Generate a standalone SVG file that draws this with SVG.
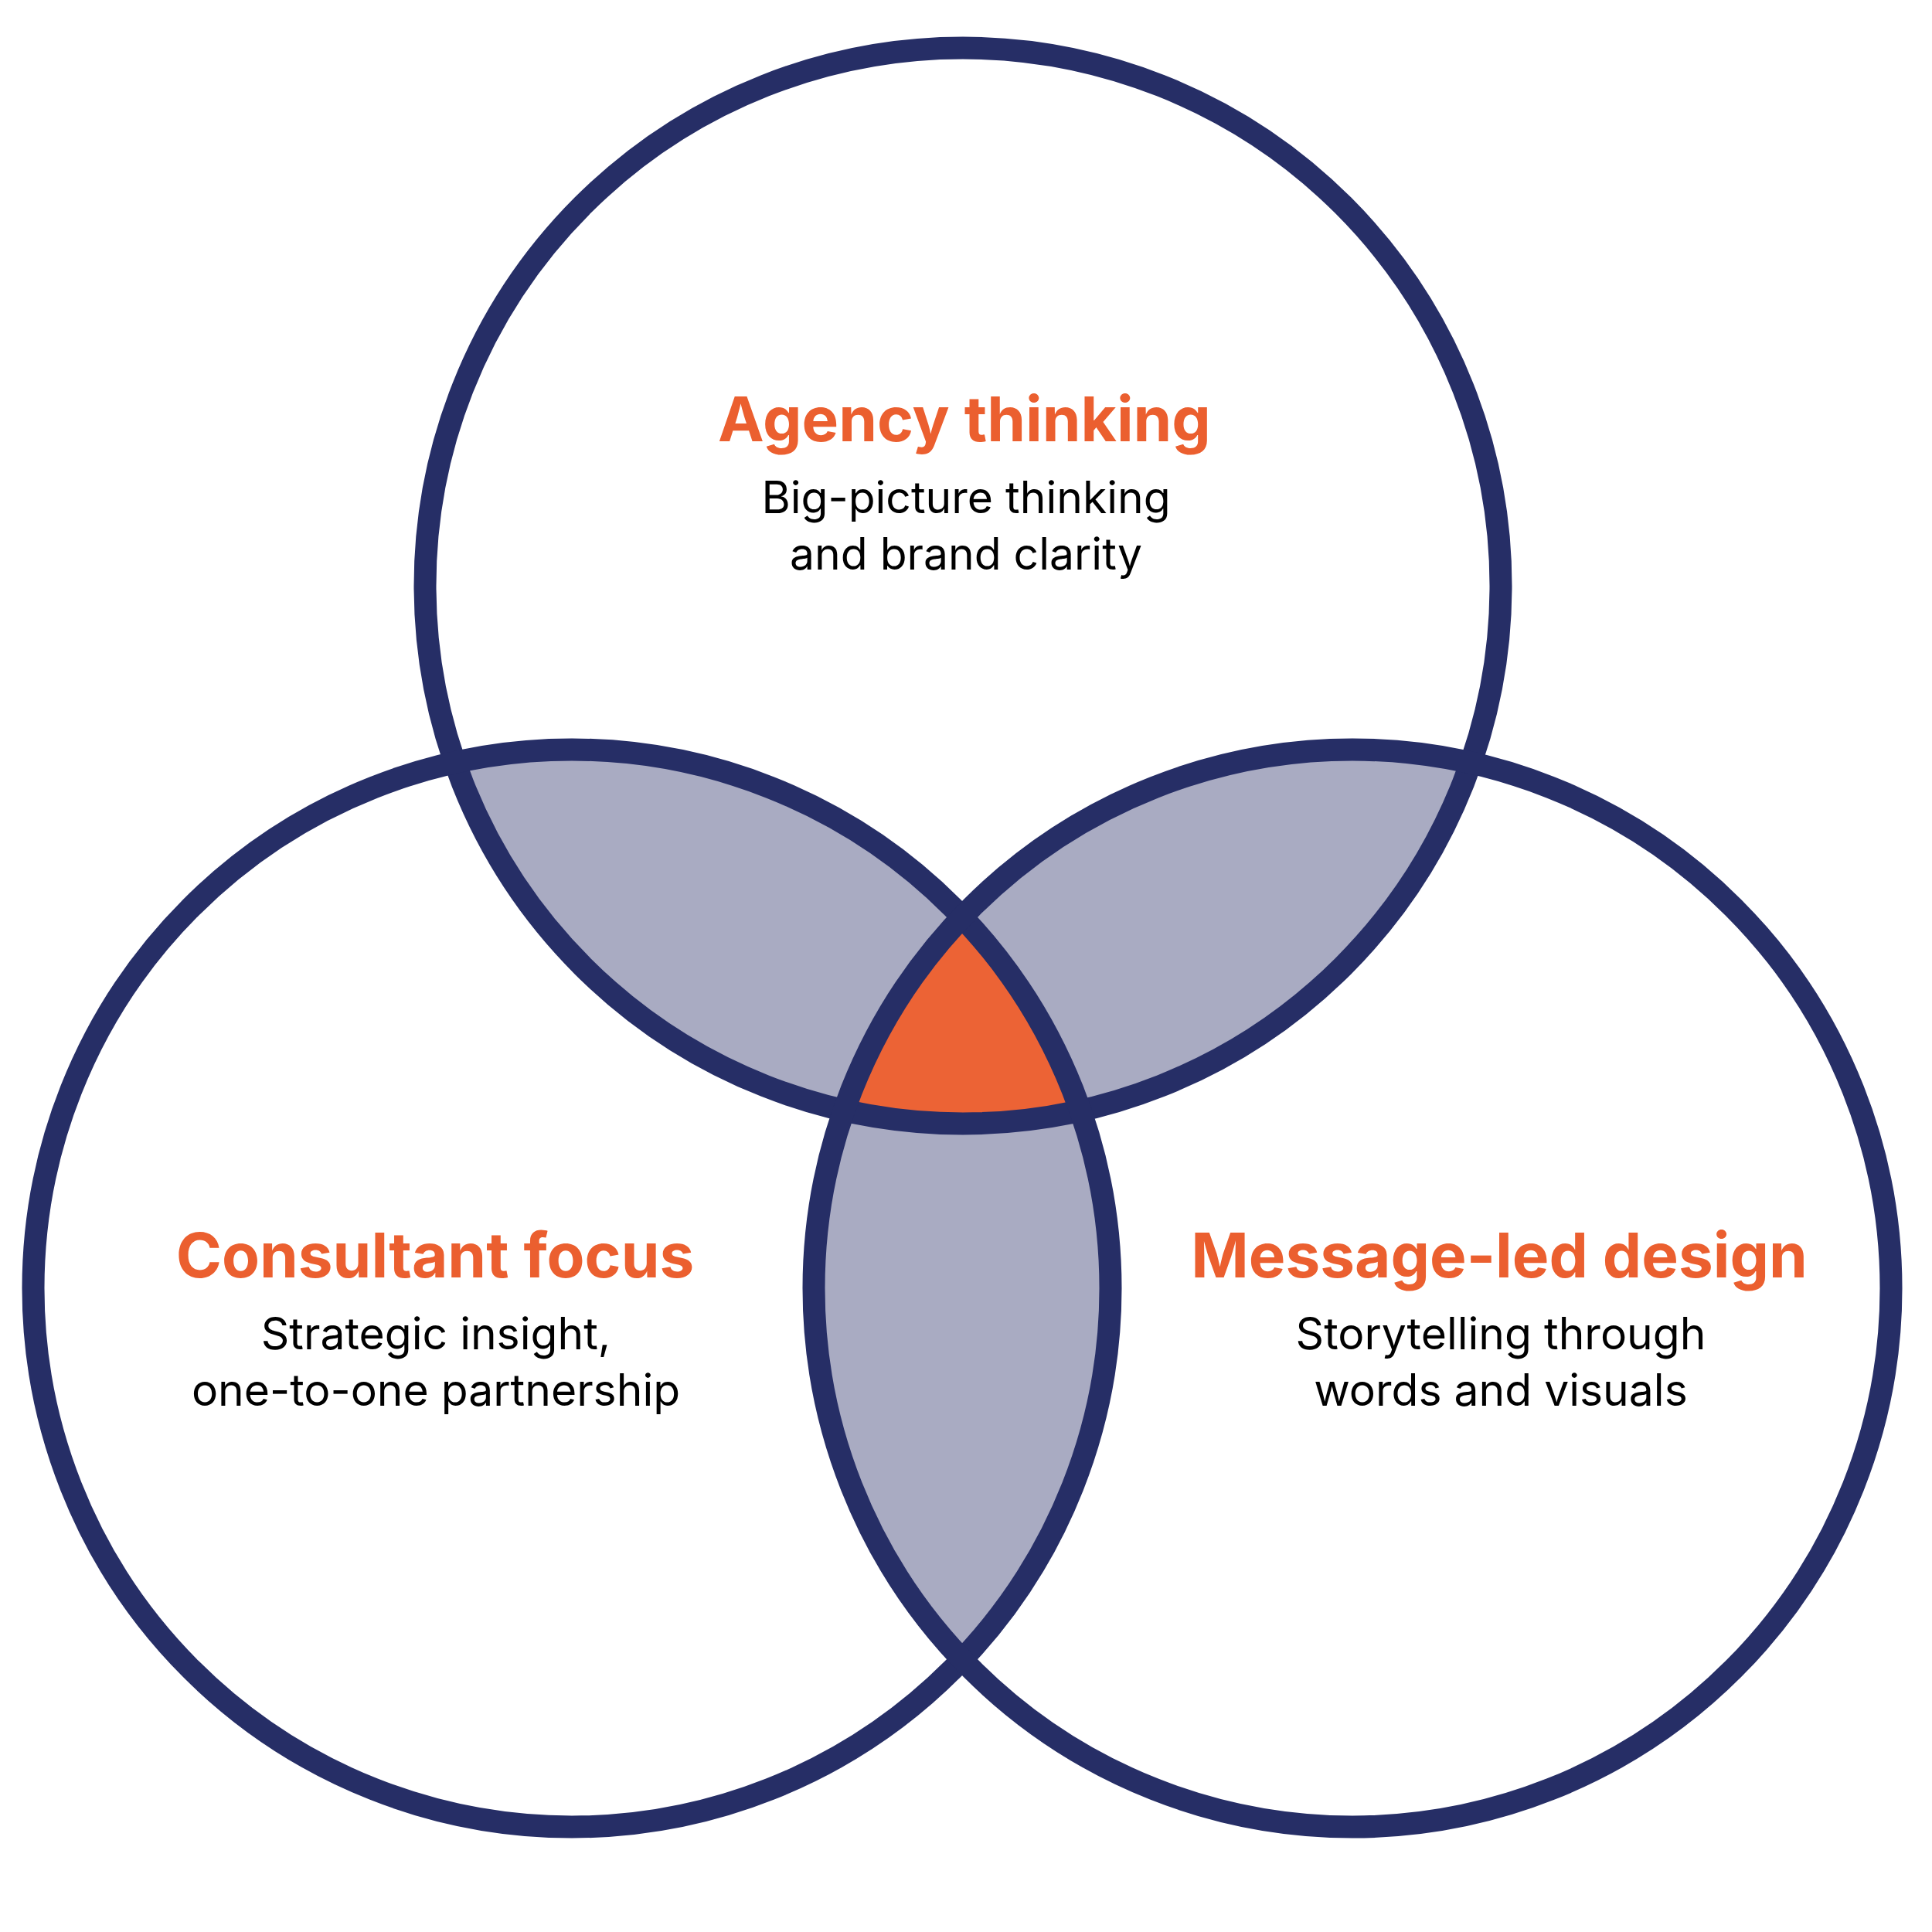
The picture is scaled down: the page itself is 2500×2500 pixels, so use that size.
<svg xmlns="http://www.w3.org/2000/svg" width="2500" height="2500" viewBox="0 0 2500 2500">
<style>
.ring{fill:none;stroke:#262E66;stroke-width:29}
.pair{fill:#A9ABC2}
.core{fill:#EC6335}
.title{font-family:Inter,"Liberation Sans",sans-serif;font-weight:700;font-size:80px;fill:#EB5F2F;text-anchor:middle}
.sub{font-family:Inter,"Liberation Sans",sans-serif;font-weight:400;font-size:57px;fill:#000;text-anchor:middle}
</style>
<defs>
<clipPath id="cTop"><circle cx="1246" cy="758" r="696"/></clipPath>
<clipPath id="cLeft"><circle cx="740" cy="1667" r="697"/></clipPath>
<clipPath id="cRight"><circle cx="1750" cy="1667" r="697"/></clipPath>
</defs>
<rect width="2500" height="2500" fill="#fff"/>
<g id="overlaps">
<circle class="pair" cx="1246" cy="758" r="696" clip-path="url(#cLeft)"/>
<circle class="pair" cx="1246" cy="758" r="696" clip-path="url(#cRight)"/>
<circle class="pair" cx="740" cy="1667" r="697" clip-path="url(#cRight)"/>
<g clip-path="url(#cLeft)"><circle class="core" cx="1246" cy="758" r="696" clip-path="url(#cRight)"/></g>
</g>
<g id="agency">
<circle class="ring" cx="1246" cy="758" r="696"/>
<text class="title" x="1248" y="571">Agency thinking</text>
<text class="sub" x="1250" y="664">Big-picture thinking</text>
<text class="sub" x="1250" y="737">and brand clarity</text>
</g>
<g id="consultant">
<circle class="ring" cx="740" cy="1667" r="697"/>
<text class="title" x="563" y="1653">Consultant focus</text>
<text class="sub" x="564" y="1746">Strategic insight,</text>
<text class="sub" x="564" y="1819">one-to-one partnership</text>
</g>
<g id="message">
<circle class="ring" cx="1750" cy="1667" r="697"/>
<text class="title" x="1940" y="1653">Message-led design</text>
<text class="sub" x="1942" y="1746">Storytelling through</text>
<text class="sub" x="1942" y="1819">words and visuals</text>
</g>
<g id="connectors"/>
</svg>
